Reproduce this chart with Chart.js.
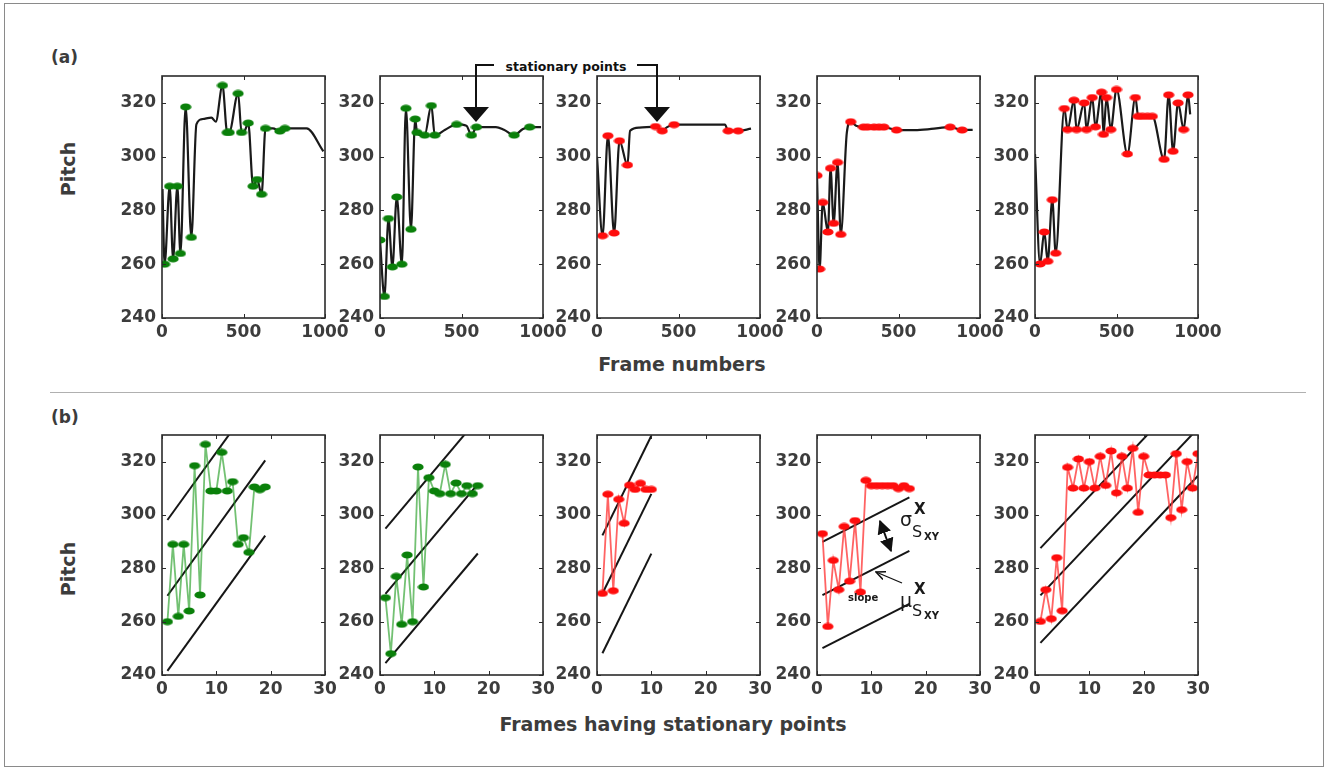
<!DOCTYPE html>
<html>
<head>
<meta charset="utf-8">
<script src="https://cdn.jsdelivr.net/npm/chart.js@4.4.0/dist/chart.umd.min.js"></script>
<style>
  body { margin: 0; background: #fff; }
  #fig { position: relative; width: 1333px; height: 770px; overflow: hidden; font-family: "DejaVu Sans", sans-serif; }
  .panel { position: absolute; }
  .lbl { position: absolute; color: #3c3c3c; font-weight: bold; white-space: nowrap; }
  #frame { position: absolute; left: 4px; top: 3px; width: 1318px; height: 762px; border: 1px solid #8a8a8a; }
  #sep { position: absolute; left: 50px; top: 392px; width: 1256px; height: 0; border-top: 1px solid #b0b0b0; }
  svg#notes { position: absolute; left: 0; top: 0; z-index: 5; }
</style>
</head>
<body>
<div id="fig">
  <div id="frame"></div>
  <div id="sep"></div>
  <div class="lbl" style="left:51px; top:47px; font-size:17px;">(a)</div>
  <div class="lbl" style="left:51px; top:407px; font-size:17px;">(b)</div>
  <div class="lbl" style="left:68px; top:169px; font-size:19px; transform:translate(-50%,-50%) rotate(-90deg);">Pitch</div>
  <div class="lbl" style="left:68px; top:569px; font-size:19px; transform:translate(-50%,-50%) rotate(-90deg);">Pitch</div>
  <div class="lbl" style="left:682px; top:364px; font-size:19px; transform:translate(-50%,-50%);">Frame numbers</div>
  <div class="lbl" style="left:673px; top:724px; font-size:19px; transform:translate(-50%,-50%);">Frames having stationary points</div>
  <div class="lbl" style="left:566px; top:66px; font-size:12.5px; color:#111; transform:translate(-50%,-50%);">stationary points</div>
</div>

<script>
// tick labels
const yTicks = [240, 260, 280, 300, 320];
const frameTicks = [0, 500, 1000];
const indexTicks = [0, 10, 20, 30];

// (a) pitch contours, frame numbers vs pitch
const contourX1 = [3, 16, 47, 68, 94, 113, 145, 180, 211, 250, 303, 330, 371, 400, 412, 467, 488, 510, 529, 559, 584, 611, 635, 680, 723, 754, 800, 887, 990];
const contourY1 = [288, 260, 289, 262, 289, 264, 318.5, 270, 312, 314, 314.5, 313, 326.5, 309, 309, 323.5, 309, 310, 312.5, 289, 291.5, 286, 310.5, 310.5, 309.5, 310.5, 310.5, 310.5, 302];
const contourX2 = [0, 27, 52, 76, 103, 134, 159, 190, 216, 227, 250, 274, 315, 336, 400, 470, 530, 561, 592, 711, 760, 823, 877, 918, 988];
const contourY2 = [269, 248, 277, 259, 285, 260, 318, 273, 314, 309, 308, 308, 319, 308, 310, 312, 311.5, 308, 311, 311, 310, 308, 310.3, 311, 311];
const contourX3 = [0, 34, 67, 105, 138, 187, 203, 260, 359, 400, 430, 473, 600, 785, 805, 866, 945];
const contourY3 = [300, 270.6, 307.8, 271.6, 305.9, 296.9, 309.6, 310.8, 311.2, 309.6, 311, 311.9, 311.9, 311.9, 309.6, 309.6, 310.4];
const contourX4 = [0, 16, 35, 67, 83, 102, 126, 146, 183, 207, 240, 285, 310, 350, 380, 410, 488, 600, 700, 817, 890, 955];
const contourY4 = [293, 258.2, 283, 272, 295.7, 275.2, 297.9, 271.1, 308.9, 313, 311.5, 311, 311, 311, 311, 311, 309.9, 309.9, 310.3, 311, 309.9, 310];
const contourX5 = [0, 31, 57, 78, 106, 127, 180, 200, 239, 255, 302, 316, 351, 371, 408, 420, 439, 465, 500, 567, 616, 633, 659, 690, 720, 792, 820, 847, 878, 912, 939, 952];
const contourY5 = [301, 260.1, 272, 261.1, 284, 264.1, 317.9, 310.1, 321, 310.1, 320, 310.1, 322, 311.1, 324, 308.3, 322, 310.1, 325, 301, 322, 315, 315, 315, 315, 299, 323, 302, 320, 310.1, 323, 315.7];

// stationary points on each contour
const statX1 = [16, 47, 68, 94, 113, 145, 180, 371, 400, 412, 467, 488, 529, 559, 584, 611, 635, 723, 754];
const statY1 = [260, 289, 262, 289, 264, 318.5, 270, 326.5, 309, 309, 323.5, 309, 312.5, 289, 291.5, 286, 310.5, 309.5, 310.5];
const statX2 = [0, 27, 52, 76, 103, 134, 159, 190, 216, 227, 274, 315, 336, 470, 561, 592, 823, 918];
const statY2 = [269, 248, 277, 259, 285, 260, 318, 273, 314, 309, 308, 319, 308, 312, 308, 311, 308, 311];
const statX3 = [34, 67, 105, 138, 187, 359, 400, 473, 805, 866];
const statY3 = [270.6, 307.8, 271.6, 305.9, 296.9, 311.2, 309.6, 311.9, 309.6, 309.6];
const statX4 = [0, 16, 35, 67, 83, 102, 126, 146, 207, 285, 310, 350, 380, 410, 488, 817, 890];
const statY4 = [293, 258.2, 283, 272, 295.7, 275.2, 297.9, 271.1, 313, 311, 311, 311, 311, 311, 309.9, 311, 309.9];
const statX5 = [31, 57, 78, 106, 127, 180, 200, 239, 255, 302, 316, 351, 371, 408, 420, 439, 465, 500, 567, 616, 633, 659, 690, 720, 792, 820, 847, 878, 912, 939];
const statY5 = [260.1, 272, 261.1, 284, 264.1, 317.9, 310.1, 321, 310.1, 320, 310.1, 322, 311.1, 324, 308.3, 322, 310.1, 325, 301, 322, 315, 315, 315, 315, 299, 323, 302, 320, 310.1, 323];

// (b) band lines: slope and offsets (value at x = 0) for each panel
const fitSlope = [2.82, 2.42, 4.15, 1.04, 2.16];
const fitOffsets1 = [295.3, 266.9, 238.7];
const fitOffsets2 = [292.5, 268, 242];
const fitOffsets3 = [288.2, 266.4, 244];
const fitOffsets4 = [288.9, 268.9, 249];
const fitOffsets5 = [285.4, 267.7, 249.9];

const dotColor = ['#0a800a', '#0a800a', '#ff0d0d', '#ff0d0d', '#ff0d0d'];
const thinColor = ['rgba(40,160,40,0.65)', 'rgba(40,160,40,0.65)', 'rgba(255,60,60,0.8)', 'rgba(255,60,60,0.8)', 'rgba(255,60,60,0.8)'];

const contoursX = [contourX1, contourX2, contourX3, contourX4, contourX5];
const contoursY = [contourY1, contourY2, contourY3, contourY4, contourY5];
const statsX = [statX1, statX2, statX3, statX4, statX5];
const statsY = [statY1, statY2, statY3, statY4, statY5];
const fitOffsets = [fitOffsets1, fitOffsets2, fitOffsets3, fitOffsets4, fitOffsets5];

// layout of plot boxes
const plotLeft = [162, 380, 597, 817, 1035];
const plotW = 163;
const rowTop = [76, 435];
const rowH = [242, 240];
const AXW = 62, AXH = 30, PADT = 12, PADR = 30;

function ellipseDot(color) {
    const c = document.createElement('canvas');
    c.width = 12; c.height = 8;
    const g = c.getContext('2d');
    g.fillStyle = color;
    g.beginPath();
    g.ellipse(6, 4, 5.6, 3.6, 0, 0, Math.PI * 2);
    g.fill();
    return c;
}

// matlab style box with inward ticks
const boxPlugin = {
    id: 'matBox',
    afterDatasetsDraw(chart) {
        const { ctx, chartArea: a, scales } = chart;
        ctx.save();
        ctx.strokeStyle = '#2b2b2b';
        ctx.lineWidth = 1.6;
        ctx.strokeRect(a.left, a.top, a.right - a.left, a.bottom - a.top);
        ctx.lineWidth = 1;
        ctx.beginPath();
        scales.y.ticks.forEach(t => {
            const py = Math.round(scales.y.getPixelForValue(t.value)) + 0.5;
            ctx.moveTo(a.left, py); ctx.lineTo(a.left + 4, py);
            ctx.moveTo(a.right, py); ctx.lineTo(a.right - 4, py);
        });
        scales.x.ticks.forEach(t => {
            const px = Math.round(scales.x.getPixelForValue(t.value)) + 0.5;
            ctx.moveTo(px, a.bottom); ctx.lineTo(px, a.bottom - 4);
            ctx.moveTo(px, a.top); ctx.lineTo(px, a.top + 4);
        });
        ctx.stroke();
        ctx.restore();
    }
};

function makeChart(row, i, datasets, xMax, xTicks) {
    const fig = document.getElementById('fig');
    const box = document.createElement('div');
    box.className = 'panel';
    const w = AXW + plotW + PADR, h = PADT + rowH[row] + AXH;
    box.style.left = (plotLeft[i] - AXW) + 'px';
    box.style.top = (rowTop[row] - PADT) + 'px';
    box.style.width = w + 'px';
    box.style.height = h + 'px';
    const cv = document.createElement('canvas');
    cv.width = w; cv.height = h;
    box.appendChild(cv);
    fig.appendChild(box);

    const tickFont = { family: 'DejaVu Sans', size: 17, weight: 'bold' };
    return new Chart(cv.getContext('2d'), {
        type: 'line',
        data: { datasets: datasets },
        options: {
            responsive: false,
            animation: false,
            layout: { padding: { left: 0, top: PADT, right: PADR, bottom: 0 }, autoPadding: false },
            plugins: { legend: { display: false }, tooltip: { enabled: false } },
            scales: {
                x: {
                    type: 'linear', min: 0, max: xMax,
                    grid: { display: false, drawTicks: false },
                    border: { display: false },
                    ticks: { font: tickFont, color: '#3c3c3c', padding: 4, maxRotation: 0, callback: v => String(v) },
                    afterBuildTicks: s => { s.ticks = xTicks.map(v => ({ value: v })); },
                    afterFit: s => { s.height = AXH; s.paddingLeft = 0; s.paddingRight = 0; }
                },
                y: {
                    min: 240, max: 330,
                    grid: { display: false, drawTicks: false },
                    border: { display: false },
                    ticks: { font: tickFont, color: '#3c3c3c', padding: 6, callback: v => String(v) },
                    afterBuildTicks: s => { s.ticks = yTicks.map(v => ({ value: v })); },
                    afterFit: s => { s.width = AXW; s.paddingTop = 0; s.paddingBottom = 0; }
                }
            }
        },
        plugins: [boxPlugin]
    });
}

for (let i = 0; i < 5; i++) {
    const dot = ellipseDot(dotColor[i]);

    // (a) contour with stationary points
    makeChart(0, i, [
        {
            data: statsX[i].map((x, k) => ({ x: x, y: statsY[i][k] })),
            showLine: false,
            pointStyle: dot, pointRadius: 5
        },
        {
            data: contoursX[i].map((x, k) => ({ x: x, y: contoursY[i][k] })),
            borderColor: '#1a1a1a', borderWidth: 2.2,
            cubicInterpolationMode: 'monotone',
            pointRadius: 0
        }
    ], 1000, frameTicks);

    // (b) stationary points by index with band lines
    const n = statsY[i].length;
    const bands = fitOffsets[i].map(off => ({
        data: [{ x: 1, y: off + fitSlope[i] * 1 }, { x: n, y: off + fitSlope[i] * n }],
        borderColor: '#161616', borderWidth: 2, pointRadius: 0
    }));
    makeChart(1, i, [
        {
            data: statsY[i].map((y, k) => ({ x: k + 1, y: y })),
            borderColor: thinColor[i], borderWidth: 1.8,
            pointStyle: dot, pointRadius: 5
        }
    ].concat(bands), 30, indexTicks);
}
</script>

<svg id="notes" width="1333" height="770" xmlns="http://www.w3.org/2000/svg">
  <defs>
    <marker id="fh" viewBox="0 0 10 10" refX="9" refY="5" markerWidth="7" markerHeight="7" orient="auto-start-reverse">
      <path d="M0,0 L10,5 L0,10 z" fill="#111"/>
    </marker>
    <marker id="oh" viewBox="0 0 10 10" refX="9" refY="5" markerWidth="8" markerHeight="8" orient="auto">
      <path d="M0,1 L9,5 L0,9" fill="none" stroke="#111" stroke-width="1.5"/>
    </marker>
  </defs>
  <!-- stationary points arrows -->
  <polyline points="494,65 476,65 476,108" fill="none" stroke="#111" stroke-width="2"/>
  <polygon points="463,107 489,107 476,122" fill="#111"/>
  <polyline points="637,65 657,65 657,108" fill="none" stroke="#111" stroke-width="2"/>
  <polygon points="644,107 670,107 657,122" fill="#111"/>
  <!-- spread and slope notes -->
  <line x1="880" y1="521" x2="891" y2="551" stroke="#111" stroke-width="2" marker-start="url(#fh)" marker-end="url(#fh)"/>
  <line x1="902" y1="583" x2="876" y2="572" stroke="#111" stroke-width="1.3" marker-end="url(#oh)"/>
  <g font-family="DejaVu Sans" fill="#1a1a1a">
    <text x="900" y="526" font-size="19">σ</text>
    <text x="914" y="514" font-size="15" font-weight="bold">X</text>
    <text x="912" y="537" font-size="16">S</text>
    <text x="924" y="540" font-size="10" font-weight="bold">XY</text>
    <text x="848" y="601" font-size="10" font-weight="bold">slope</text>
    <text x="900" y="607" font-size="19">μ</text>
    <text x="914" y="594" font-size="15" font-weight="bold">X</text>
    <text x="912" y="616" font-size="16">S</text>
    <text x="924" y="619" font-size="10" font-weight="bold">XY</text>
  </g>
</svg>
</body>
</html>
